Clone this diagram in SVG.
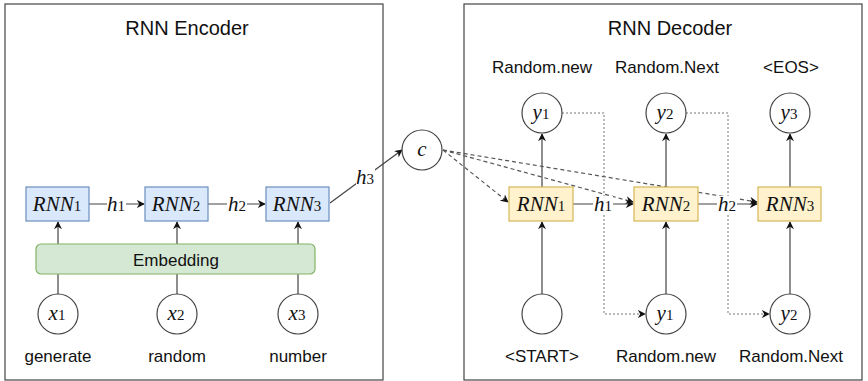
<svg xmlns="http://www.w3.org/2000/svg" width="868" height="381" viewBox="0 0 868 381">
<style>
.frame{fill:#fff;stroke:#444;stroke-width:1.2}
.title{font-family:"Liberation Sans",Arial,sans-serif;font-size:20px;fill:#111;text-anchor:middle}
.lbl{font-family:"Liberation Sans",Arial,sans-serif;font-size:17px;fill:#111;text-anchor:middle}
.m{font-family:"Liberation Serif","Times New Roman",serif;font-style:italic;font-size:21px;fill:#111;text-anchor:middle}
.sub{font-style:normal;font-size:15px}
.enc{fill:#dae8fc;stroke:#6c8ebf;stroke-width:1.2}
.dec{fill:#fff2cc;stroke:#d6b656;stroke-width:1.2}
.emb{fill:#d5e8d4;stroke:#82b366;stroke-width:1.2}
.circ{fill:#fff;stroke:#444;stroke-width:1.2}
.ln{fill:none;stroke:#444;stroke-width:1.2}
.dash{fill:none;stroke:#555;stroke-width:1.2;stroke-dasharray:4 3}
.dot{fill:none;stroke:#777;stroke-width:1;stroke-dasharray:2 2}
.bg{fill:#fff}
</style>
<defs>
<marker id="arr" viewBox="0 0 10 10" refX="9" refY="5" markerWidth="8" markerHeight="8" markerUnits="userSpaceOnUse" orient="auto">
<path d="M0,0 L10,5 L0,10 L3,5 z" fill="#111"/>
</marker>
</defs>

<g id="encoder-frame">
<rect class="frame" x="5" y="4" width="378" height="376"/>
<text class="title" x="187" y="35">RNN Encoder</text>
</g>
<g id="decoder-frame">
<rect class="frame" x="464" y="4" width="398" height="376"/>
<text class="title" x="670" y="35">RNN Decoder</text>
</g>

<g id="connectors">
<line class="ln" x1="58" y1="294" x2="58" y2="274"/>
<line class="ln" x1="177" y1="294" x2="177" y2="274"/>
<line class="ln" x1="298" y1="294" x2="298" y2="274"/>
<line class="ln" x1="58" y1="244" x2="58" y2="222" marker-end="url(#arr)"/>
<line class="ln" x1="177" y1="244" x2="177" y2="222" marker-end="url(#arr)"/>
<line class="ln" x1="298" y1="244" x2="298" y2="222" marker-end="url(#arr)"/>
<line class="ln" x1="89" y1="204" x2="144" y2="204" marker-end="url(#arr)"/>
<line class="ln" x1="208" y1="204" x2="265" y2="204" marker-end="url(#arr)"/>
<line class="ln" x1="330" y1="203" x2="402" y2="150" marker-end="url(#arr)"/>
<line class="dash" x1="443" y1="150" x2="508" y2="202" marker-end="url(#arr)"/>
<line class="dash" x1="443" y1="150" x2="633" y2="202" marker-end="url(#arr)"/>
<line class="dash" x1="443" y1="150" x2="757" y2="202" marker-end="url(#arr)"/>
<polyline class="dot" points="562,113 604,113 604,314 645,314" marker-end="url(#arr)"/>
<polyline class="dot" points="686,113 728,113 728,314 769,314" marker-end="url(#arr)"/>
<line class="ln" x1="542" y1="294" x2="542" y2="222" marker-end="url(#arr)"/>
<line class="ln" x1="666" y1="294" x2="666" y2="222" marker-end="url(#arr)"/>
<line class="ln" x1="790" y1="294" x2="790" y2="222" marker-end="url(#arr)"/>
<line class="ln" x1="542" y1="187" x2="542" y2="134" marker-end="url(#arr)"/>
<line class="ln" x1="666" y1="187" x2="666" y2="134" marker-end="url(#arr)"/>
<line class="ln" x1="790" y1="187" x2="790" y2="134" marker-end="url(#arr)"/>
<line class="ln" x1="573" y1="204" x2="633" y2="204" marker-end="url(#arr)"/>
<line class="ln" x1="698" y1="204" x2="757" y2="204" marker-end="url(#arr)"/>
<rect class="bg" x="107" y="195" width="19" height="18"/>
<text class="m" x="116" y="211">h<tspan class="sub">1</tspan></text>
<rect class="bg" x="227" y="195" width="20" height="18"/>
<text class="m" x="237" y="211">h<tspan class="sub">2</tspan></text>
<rect class="bg" x="356" y="168" width="19" height="18"/>
<text class="m" x="365" y="184">h<tspan class="sub">3</tspan></text>
<rect class="bg" x="593" y="196" width="20" height="18"/>
<text class="m" x="603" y="211">h<tspan class="sub">1</tspan></text>
<rect class="bg" x="717" y="196" width="20" height="18"/>
<text class="m" x="727" y="211">h<tspan class="sub">2</tspan></text>
</g>

<g id="enc-rnn1"><rect class="enc" x="26" y="187" width="63" height="34"/><text class="m" x="57" y="211">RNN<tspan class="sub">1</tspan></text></g>
<g id="enc-rnn2"><rect class="enc" x="145" y="187" width="63" height="34"/><text class="m" x="176" y="211">RNN<tspan class="sub">2</tspan></text></g>
<g id="enc-rnn3"><rect class="enc" x="266" y="187" width="63" height="34"/><text class="m" x="297" y="211">RNN<tspan class="sub">3</tspan></text></g>
<g id="embedding"><rect class="emb" x="36" y="244" width="279" height="30" rx="5"/><text class="lbl" x="176" y="266">Embedding</text></g>

<g id="x1"><circle class="circ" cx="58" cy="314" r="20"/><text class="m" x="57" y="320">x<tspan class="sub">1</tspan></text><text class="lbl" x="58" y="362">generate</text></g>
<g id="x2"><circle class="circ" cx="177" cy="314" r="20"/><text class="m" x="176" y="320">x<tspan class="sub">2</tspan></text><text class="lbl" x="177" y="362">random</text></g>
<g id="x3"><circle class="circ" cx="298" cy="314" r="20"/><text class="m" x="297" y="320">x<tspan class="sub">3</tspan></text><text class="lbl" x="298" y="362">number</text></g>

<g id="c"><circle class="circ" cx="422" cy="150" r="20"/><text class="m" x="422" y="156">c</text></g>

<g id="dec-rnn1"><rect class="dec" x="509" y="187" width="64" height="34"/><text class="m" x="541" y="211">RNN<tspan class="sub">1</tspan></text></g>
<g id="dec-rnn2"><rect class="dec" x="634" y="187" width="64" height="34"/><text class="m" x="666" y="211">RNN<tspan class="sub">2</tspan></text></g>
<g id="dec-rnn3"><rect class="dec" x="758" y="187" width="63" height="34"/><text class="m" x="790" y="211">RNN<tspan class="sub">3</tspan></text></g>

<g id="out-y1"><circle class="circ" cx="542" cy="113" r="20"/><text class="m" x="541" y="119">y<tspan class="sub">1</tspan></text><text class="lbl" x="542" y="73">Random.new</text></g>
<g id="out-y2"><circle class="circ" cx="666" cy="113" r="20"/><text class="m" x="665" y="119">y<tspan class="sub">2</tspan></text><text class="lbl" x="667" y="73">Random.Next</text></g>
<g id="out-y3"><circle class="circ" cx="790" cy="113" r="20"/><text class="m" x="789" y="119">y<tspan class="sub">3</tspan></text><text class="lbl" x="791" y="73">&lt;EOS&gt;</text></g>

<g id="in-start"><circle class="circ" cx="542" cy="314" r="20"/><text class="lbl" x="542" y="362">&lt;START&gt;</text></g>
<g id="in-y1"><circle class="circ" cx="666" cy="314" r="20"/><text class="m" x="665" y="320">y<tspan class="sub">1</tspan></text><text class="lbl" x="666" y="362">Random.new</text></g>
<g id="in-y2"><circle class="circ" cx="790" cy="314" r="20"/><text class="m" x="789" y="320">y<tspan class="sub">2</tspan></text><text class="lbl" x="791" y="362">Random.Next</text></g>
</svg>
